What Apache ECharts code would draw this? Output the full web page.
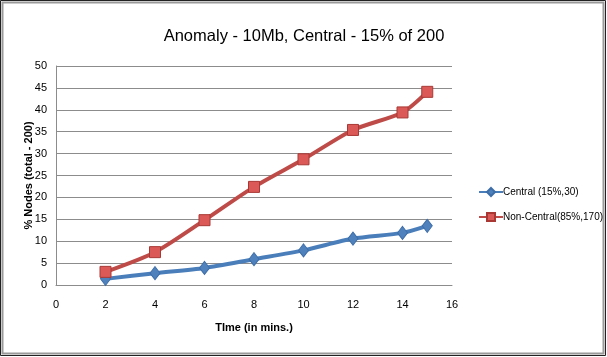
<!DOCTYPE html>
<html>
<head>
<meta charset="utf-8">
<script src="https://cdn.jsdelivr.net/npm/echarts@6/dist/echarts.min.js"></script>
<style>
  html, body { margin: 0; padding: 0; background: #fff; }
  #chart { width: 607px; height: 357px; }
</style>
</head>
<body>
<div id="chart"></div>
<script>
// time points (minutes)
const times = [2, 4, 6, 8, 10, 12, 14, 15];
// % of nodes
const central = [1.4, 2.7, 3.9, 5.9, 7.9, 10.6, 11.9, 13.5];
const nonCentral = [3.0, 7.5, 14.8, 22.4, 28.7, 35.4, 39.4, 44.1];
const seriesNames = ["Central (15%,30)", "Non-Central(85%,170)"];

const labelFont = "'Liberation Sans', sans-serif";

const chart = echarts.init(document.getElementById("chart"));

const options = {
  animation: false,
  title: {
    text: "Anomaly - 10Mb, Central - 15% of 200",
    left: 299,
    top: 23,
    textAlign: "center",
    textStyle: { fontFamily: labelFont, fontSize: 16.5, fontWeight: "normal", color: "#000" },
  },
  graphic: [
    { type: "rect", shape: { x: 0.5, y: 0.5, width: 605, height: 355 }, style: { fill: "none", stroke: "#222", lineWidth: 1 } },
    { type: "rect", shape: { x: 2.5, y: 2.5, width: 601, height: 351 }, style: { fill: "none", stroke: "#9a9a9a", lineWidth: 2 } },
  ],
  legend: {
    orient: "vertical",
    left: 473,
    top: 182,
    itemGap: 15,
    itemWidth: 24,
    itemHeight: 10,
    textStyle: { fontFamily: labelFont, fontSize: 10, color: "#000", padding: [0, 0, 0, -5] },
    data: seriesNames,
  },
  grid: { left: 56, right: 155, top: 66, bottom: 72 },
  xAxis: {
    type: "value",
    min: 0,
    max: 16,
    interval: 2,
    name: "TIme (in mins.)",
    nameLocation: "middle",
    nameGap: 37,
    nameTextStyle: { fontFamily: labelFont, fontSize: 11, fontWeight: "bold", color: "#000" },
    axisLine: { lineStyle: { color: "#8c8c8c", width: 1 } },
    axisTick: { show: false },
    axisLabel: { fontFamily: labelFont, fontSize: 11, color: "#000", margin: 14 },
    splitLine: { show: false },
  },
  yAxis: {
    type: "value",
    min: 0,
    max: 50,
    interval: 5,
    name: "% Nodes (total - 200)",
    nameLocation: "middle",
    nameGap: 22,
    nameMoveOverlap: false,
    nameTextStyle: { fontFamily: labelFont, fontSize: 11, fontWeight: "bold", color: "#000" },
    axisLine: { show: true, lineStyle: { color: "#8c8c8c", width: 1 } },
    axisTick: { show: false },
    axisLabel: { fontFamily: labelFont, fontSize: 11, color: "#000", margin: 9 },
    splitLine: { lineStyle: { color: "#8c8c8c", width: 1 } },
  },
  series: [
    {
      name: seriesNames[0],
      type: "line",
      data: times.map((t, i) => [t, central[i]]),
      smooth: 0.25,
      symbol: "diamond",
      symbolSize: [10, 13],
      lineStyle: { color: "#4a7ebb", width: 4 },
      itemStyle: { color: "#4f81bd", borderColor: "#3d6ea8", borderWidth: 1 },
      z: 3,
    },
    {
      name: seriesNames[1],
      type: "line",
      data: times.map((t, i) => [t, nonCentral[i]]),
      smooth: 0.25,
      symbol: "rect",
      symbolSize: 11,
      lineStyle: { color: "#be4b48", width: 4 },
      itemStyle: { color: "#db5a57", borderColor: "#a93835", borderWidth: 1 },
      z: 4,
    },
  ],
};

chart.setOption(options);
</script>
</body>
</html>
